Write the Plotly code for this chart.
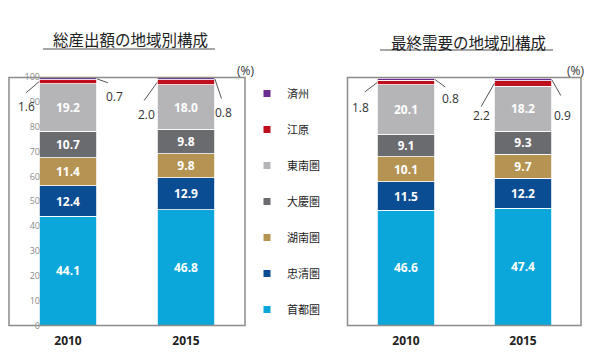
import plotly.graph_objects as go

# ---- data ----
years = ["2010", "2015"]
regions = ["首都圏", "忠清圏", "湖南圏", "大慶圏", "東南圏", "江原", "済州"]
colors = ["#0ba6da", "#0a4d93", "#b49353", "#6a6b6f", "#b5b5b7", "#c00f1c", "#6a2d8f"]
output_2010 = [44.1, 12.4, 11.4, 10.7, 19.2, 1.6, 0.7]
output_2015 = [46.8, 12.9, 9.8, 9.8, 18.0, 2.0, 0.8]
demand_2010 = [46.6, 11.5, 10.1, 9.1, 20.1, 1.8, 0.8]
demand_2015 = [47.4, 12.2, 9.7, 9.3, 18.2, 2.2, 0.9]
y_ticks = [0, 10, 20, 30, 40, 50, 60, 70, 80, 90, 100]
titles = ["総産出額の地域別構成", "最終需要の地域別構成"]

W, H = 590, 362
BAR_W = 0.49
JP = "Noto Sans CJK JP"
NUM = "Open Sans"

def px(x):
    return x / W

def py(y):
    return 1 - y / H

panels = [
    (output_2010, output_2015, "x", "y"),
    (demand_2010, demand_2015, "x2", "y2"),
]

fig = go.Figure()

for vals_a, vals_b, xa, ya in panels:
    for i, reg in enumerate(regions):
        small = i >= 5
        fig.add_trace(go.Bar(
            x=years, y=[vals_a[i], vals_b[i]], name=reg,
            marker=dict(color=colors[i], line=dict(color="white", width=0.8)),
            width=BAR_W,
            text=None if small else [f"{vals_a[i]:.1f}", f"{vals_b[i]:.1f}"],
            textposition="inside", insidetextanchor="middle",
            textfont=dict(color="white", size=12, family=NUM, weight="bold"),
            showlegend=False, xaxis=xa, yaxis=ya, hoverinfo="skip",
        ))

# legend entries (top to bottom)
for i in reversed(range(len(regions))):
    fig.add_trace(go.Scatter(
        x=[None], y=[None], mode="markers", name=regions[i],
        marker=dict(symbol="square", size=7, color=colors[i]),
        legendgroup=regions[i], showlegend=True, xaxis="x", yaxis="y",
    ))

# invisible trace to carry the left tick-label axis
fig.add_trace(go.Scatter(x=[None], y=[None], xaxis="x", yaxis="y3",
                         showlegend=False, hoverinfo="skip"))

# callouts: (axes, year index, values, series index, side, line offset, label offset)
callouts = [
    ("x", "y", 0, output_2010, 5, -1, (-14.5, 12.3), (-13, 25)),
    ("x", "y", 0, output_2010, 6, 1, (12.5, 4.5), (17.5, 18)),
    ("x", "y", 1, output_2015, 5, -1, (-14, 19.6), (-11, 31.6)),
    ("x", "y", 1, output_2015, 6, 1, (7, 21), (9, 34)),
    ("x2", "y2", 0, demand_2010, 5, -1, (-14, 10.6), (-17, 24.6)),
    ("x2", "y2", 0, demand_2010, 6, 1, (12, 8.8), (16, 18.8)),
    ("x2", "y2", 1, demand_2015, 5, -1, (-14, 24.6), (-13, 31.6)),
    ("x2", "y2", 1, demand_2015, 6, 1, (10, 17.4), (11, 35.4)),
]
for xa, ya, yi, vals, si, side, lo, to in callouts:
    base = sum(vals[:si])
    ymid = base + vals[si] / 2
    xe = yi + side * BAR_W / 2
    fig.add_annotation(x=xe, y=ymid, xref=xa, yref=ya, text="", showarrow=True,
                       arrowhead=0, arrowwidth=1, arrowcolor="#555555",
                       ax=lo[0], ay=lo[1], axref="pixel", ayref="pixel")
    fig.add_annotation(x=xe, y=ymid, xref=xa, yref=ya, text=f"{vals[si]:.1f}",
                       showarrow=False, xshift=to[0], yshift=-to[1],
                       xanchor="center", yanchor="middle",
                       font=dict(size=12, color="#333333", family=NUM))

# titles with underline
title_pos = [(130, 39, 43, 215, 49), (468, 42, 380, 553, 50)]
for t, (cx, cy, ux0, ux1, uy) in zip(titles, title_pos):
    fig.add_annotation(x=px(cx), y=py(cy), xref="paper", yref="paper", text=t,
                       showarrow=False, xanchor="center", yanchor="middle",
                       font=dict(size=15.5, color="#222222", family=JP))
    fig.add_shape(type="line", xref="paper", yref="paper", x0=px(ux0), x1=px(ux1),
                  y0=py(uy), y1=py(uy), line=dict(color="#8a8a8a", width=1.5))

# (%) labels
for cx in (245, 575):
    fig.add_annotation(x=px(cx), y=py(70), xref="paper", yref="paper", text="(%)",
                       showarrow=False, xanchor="center", yanchor="middle",
                       font=dict(size=12, color="#333333", family=NUM))

# frames
for x0, x1 in ((9, 245), (347.5, 581)):
    fig.add_shape(type="rect", xref="paper", yref="paper", x0=px(x0), x1=px(x1),
                  y0=py(325.5), y1=py(77.5), line=dict(color="#8c8c8c", width=1.5),
                  layer="above")

ydom = [py(325.5), py(77)]
xcommon = dict(type="category", range=[-0.5, 1.5], showline=False, showgrid=False,
               ticks="", ticklabelstandoff=6, automargin=False, zeroline=False,
               tickfont=dict(size=12, color="#222222", family=NUM, weight="bold"),
               fixedrange=True)
ycommon = dict(range=[0, 100.5], showgrid=False, zeroline=False, showline=False,
               ticks="", domain=ydom, fixedrange=True, automargin=False)

fig.update_layout(
    template="none",
    width=W, height=H,
    margin=dict(l=0, r=0, t=0, b=0, pad=0),
    paper_bgcolor="white", plot_bgcolor="rgba(0,0,0,0)",
    barmode="stack",
    xaxis=dict(domain=[px(9), px(245)], anchor="y", **xcommon),
    xaxis2=dict(domain=[px(347.5), px(581.5)], anchor="y2", **xcommon),
    yaxis=dict(anchor="x", showticklabels=False, **ycommon),
    yaxis2=dict(anchor="x2", showticklabels=False, **ycommon),
    yaxis3=dict(anchor="free", overlaying="y", position=px(40),
                domain=[py(326), py(73)], range=[0, 100], tickvals=y_ticks,
                showgrid=False, zeroline=False, showline=False, ticks="",
                fixedrange=True, automargin=False,
                tickfont=dict(size=9, color="#8a8a8a", family=NUM)),
    showlegend=True,
    legend=dict(x=px(247), y=py(79), xanchor="left", yanchor="top",
                traceorder="grouped", tracegroupgap=17,
                font=dict(size=11, color="#222222", family=JP),
                bgcolor="rgba(0,0,0,0)", itemwidth=30),
    font=dict(family=NUM),
)

fig.write_html("out.html", config={"displayModeBar": False, "staticPlot": True},
               post_script="document.body.style.margin='0';document.body.style.padding='0';")
